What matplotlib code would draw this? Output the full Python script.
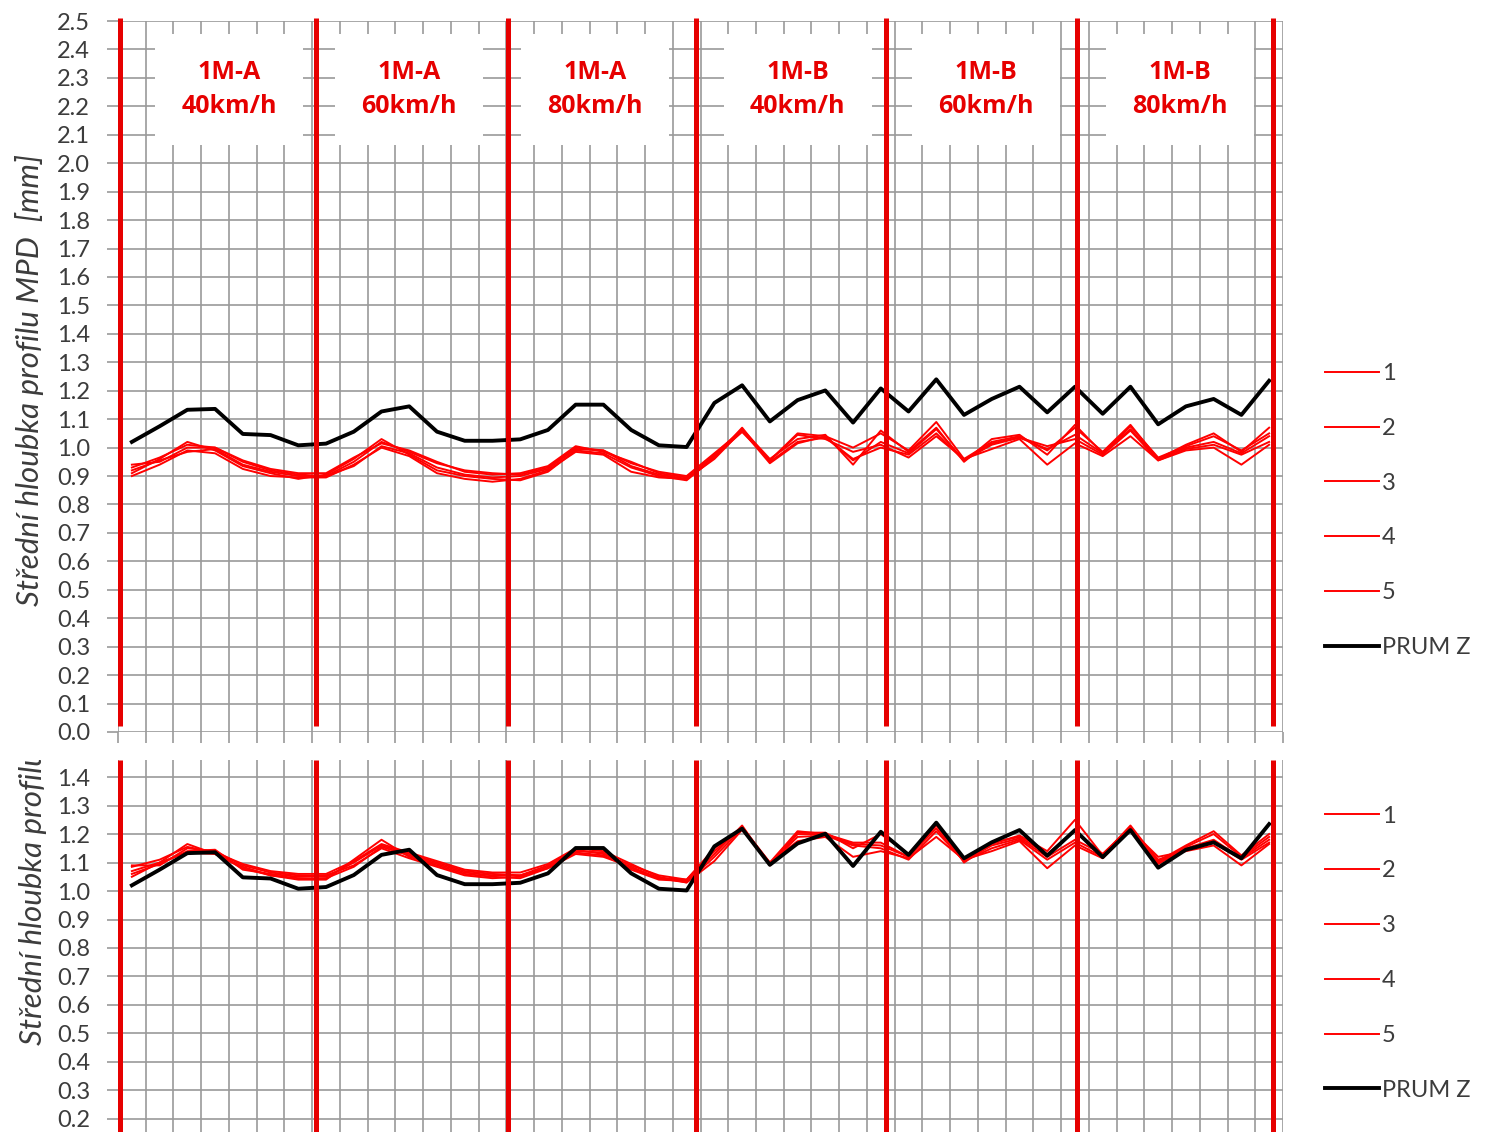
import numpy as np
import matplotlib.pyplot as plt
from matplotlib.transforms import Bbox, TransformedBbox

# Mean profile depth per measurement point (6 sections x 7 points)
prum_z = [1.02, 1.075, 1.133, 1.136, 1.048, 1.044, 1.008,
          1.014, 1.056, 1.127, 1.145, 1.056, 1.024, 1.024,
          1.029, 1.062, 1.151, 1.151, 1.062, 1.008, 1.002,
          1.157, 1.219, 1.092, 1.167, 1.201, 1.088, 1.208,
          1.127, 1.240, 1.115, 1.171, 1.214, 1.124, 1.214,
          1.119, 1.214, 1.082, 1.145, 1.171, 1.115, 1.235]

# upper chart - passes 1..5
top_1 = [0.94, 0.95, 1.00, 1.00, 0.95, 0.92, 0.905, 0.90, 0.95, 1.02, 0.985, 0.945, 0.92, 0.91,
         0.905, 0.93, 1.00, 0.99, 0.945, 0.915, 0.90, 0.98, 1.06, 0.955, 1.05, 1.04, 1.00, 1.05,
         0.99, 1.09, 0.96, 1.02, 1.04, 0.99, 1.07, 0.985, 1.08, 0.96, 1.01, 1.05, 0.985, 1.07]
top_2 = [0.91, 0.96, 1.02, 0.99, 0.935, 0.91, 0.89, 0.905, 0.96, 1.03, 0.975, 0.92, 0.90, 0.89,
         0.885, 0.915, 0.99, 0.98, 0.93, 0.90, 0.885, 0.965, 1.07, 0.95, 1.02, 1.035, 0.96, 1.00,
         0.975, 1.05, 0.955, 1.01, 1.035, 1.005, 1.03, 0.975, 1.06, 0.955, 0.995, 1.01, 0.975, 1.02]
top_3 = [0.90, 0.94, 0.99, 0.98, 0.925, 0.90, 0.895, 0.895, 0.94, 1.00, 0.97, 0.91, 0.89, 0.88,
         0.89, 0.92, 0.985, 0.975, 0.915, 0.895, 0.89, 0.975, 1.065, 0.96, 1.03, 1.045, 0.94, 1.06,
         0.985, 1.07, 0.95, 1.03, 1.045, 0.975, 1.08, 0.98, 1.075, 0.965, 1.005, 1.04, 0.99, 1.05]
top_4 = [0.93, 0.965, 1.01, 1.00, 0.955, 0.925, 0.91, 0.91, 0.965, 1.015, 0.99, 0.95, 0.915, 0.905,
         0.91, 0.935, 1.005, 0.985, 0.95, 0.91, 0.895, 0.97, 1.055, 0.955, 1.045, 1.03, 0.985, 1.01,
         0.965, 1.04, 0.96, 0.995, 1.03, 0.94, 1.015, 0.97, 1.04, 0.955, 0.99, 1.00, 0.94, 1.01]
top_5 = [0.92, 0.955, 0.985, 0.995, 0.94, 0.915, 0.90, 0.90, 0.935, 1.005, 0.98, 0.93, 0.905, 0.895,
         0.90, 0.925, 0.995, 0.99, 0.935, 0.905, 0.89, 0.96, 1.06, 0.945, 1.015, 1.04, 0.955, 1.02,
         0.98, 1.065, 0.955, 1.015, 1.035, 0.995, 1.045, 0.98, 1.065, 0.96, 1.00, 1.02, 0.98, 1.04]

# lower chart - passes 1..5
bot_1 = [1.09, 1.09, 1.15, 1.14, 1.09, 1.065, 1.055, 1.05, 1.10, 1.16, 1.13, 1.10, 1.07, 1.06,
         1.055, 1.09, 1.145, 1.13, 1.09, 1.055, 1.04, 1.14, 1.225, 1.10, 1.21, 1.20, 1.17, 1.17,
         1.12, 1.23, 1.11, 1.17, 1.19, 1.13, 1.21, 1.13, 1.225, 1.10, 1.155, 1.20, 1.12, 1.19]
bot_2 = [1.05, 1.10, 1.165, 1.13, 1.08, 1.055, 1.04, 1.04, 1.11, 1.18, 1.12, 1.09, 1.06, 1.05,
         1.045, 1.08, 1.135, 1.125, 1.08, 1.045, 1.03, 1.12, 1.22, 1.095, 1.19, 1.195, 1.16, 1.15,
         1.11, 1.21, 1.105, 1.15, 1.18, 1.11, 1.17, 1.12, 1.22, 1.11, 1.145, 1.17, 1.11, 1.17]
bot_3 = [1.06, 1.095, 1.14, 1.145, 1.075, 1.06, 1.05, 1.055, 1.09, 1.15, 1.115, 1.085, 1.055, 1.045,
         1.05, 1.085, 1.14, 1.135, 1.075, 1.04, 1.035, 1.13, 1.23, 1.09, 1.205, 1.205, 1.15, 1.20,
         1.13, 1.24, 1.10, 1.165, 1.195, 1.14, 1.25, 1.125, 1.23, 1.105, 1.16, 1.21, 1.125, 1.20]
bot_4 = [1.085, 1.11, 1.155, 1.135, 1.095, 1.07, 1.06, 1.06, 1.105, 1.165, 1.135, 1.105, 1.075, 1.065,
         1.065, 1.095, 1.15, 1.14, 1.095, 1.05, 1.03, 1.105, 1.215, 1.10, 1.175, 1.19, 1.12, 1.14,
         1.115, 1.19, 1.11, 1.14, 1.175, 1.08, 1.16, 1.115, 1.215, 1.12, 1.14, 1.16, 1.09, 1.165]
bot_5 = [1.07, 1.10, 1.135, 1.13, 1.085, 1.055, 1.045, 1.045, 1.085, 1.155, 1.125, 1.095, 1.065, 1.055,
         1.055, 1.08, 1.13, 1.12, 1.085, 1.045, 1.04, 1.15, 1.22, 1.095, 1.20, 1.20, 1.165, 1.16,
         1.12, 1.22, 1.105, 1.16, 1.185, 1.12, 1.18, 1.13, 1.22, 1.095, 1.15, 1.18, 1.115, 1.18]

sections = ["1M-A\n40km/h", "1M-A\n60km/h", "1M-A\n80km/h",
            "1M-B\n40km/h", "1M-B\n60km/h", "1M-B\n80km/h"]
section_x = [3.5, 10.0, 16.7, 24.0, 30.8, 37.8]
divider_x = [-0.43, 6.64, 13.56, 20.34, 27.19, 34.07, 41.14]

labels = ["1", "2", "3", "4", "5", "PRUM Z"]

RED = "#e60000"
GRID = "#9a9a9a"
TXT = "#3c3c3c"
plt.rcParams["font.family"] = ["Lato", "DejaVu Sans"]

W, H = 1498, 1132
fig = plt.figure(figsize=(W / 100, H / 100), dpi=100)
ax1 = fig.add_axes([118 / W, 1 - 732 / H, 1165 / W, 711 / H])
ax2 = fig.add_axes([118 / W, 0, 1165 / W, (H - 760) / H])

x = np.arange(len(prum_z))
bounds = np.arange(-0.5, len(prum_z), 1)


def style_axes(ax, ylim, yticks):
    ax.set_xlim(-0.5, len(prum_z) - 0.5)
    ax.set_ylim(*ylim)
    ax.set_xticks(bounds)
    ax.set_xticklabels([])
    ax.set_yticks(yticks)
    ax.set_yticklabels([f"{v:.1f}" for v in yticks], fontsize=17, color=TXT)
    ax.grid(True, color=GRID, lw=1.2)
    ax.set_axisbelow(True)
    ax.tick_params(axis="both", length=8, width=1.2, color=GRID, pad=12)
    for s in ax.spines.values():
        s.set_visible(False)


style_axes(ax1, (0, 2.5), np.round(np.arange(0, 2.51, 0.1), 1))
style_axes(ax2, (0.154, 1.46), np.round(np.arange(0.2, 1.41, 0.1), 1))

for ax, series, leg_y in [(ax1, [top_1, top_2, top_3, top_4, top_5], 0.549),
                          (ax2, [bot_1, bot_2, bot_3, bot_4, bot_5], 0.158)]:
    for s, lab in zip(series, labels[:5]):
        ax.plot(x, s, color="#ff0000", lw=1.4, label=lab, zorder=3)
    ax.plot(x, prum_z, color="black", lw=2.8, label=labels[5], zorder=4)
    ax.legend(loc="center left", bbox_to_anchor=(1325 / W, leg_y),
              bbox_transform=fig.transFigure, frameon=False, fontsize=17,
              handlelength=2.3, handletextpad=0.1, labelspacing=1.43,
              borderpad=0, borderaxespad=0, labelcolor=TXT)

# section dividers
ax1.vlines(divider_x, 0.02, 2.51, color=RED, lw=3.6, zorder=5, clip_on=False)
ax2.vlines(divider_x, 0.154, 1.46, color=RED, lw=3.6, zorder=5)

# section captions
for sx, txt in zip(section_x, sections):
    ax1.text(sx, 2.26, txt, ha="center", va="center", color=RED,
             fontsize=18, fontweight="bold", family="Open Sans", linespacing=1.45,
             bbox=dict(boxstyle="square,pad=1.05", fc="white", ec="none"), zorder=2.5)

ylab = "Střední hloubka profilu MPD  [mm]"
fig.text(30 / W, 1 - 380 / H, ylab, rotation=90, ha="center", va="center",
         fontsize=22.5, style="italic", color=TXT)
t = fig.text(33 / W, 1 - 1045 / H, ylab, rotation=90, ha="center", va="bottom",
             fontsize=22.5, style="italic", color=TXT)
t.set_clip_box(TransformedBbox(Bbox([[0, 0], [1, 1 - 760 / H]]), fig.transFigure))
t.set_clip_on(True)

fig.savefig("out.png", dpi=100)
